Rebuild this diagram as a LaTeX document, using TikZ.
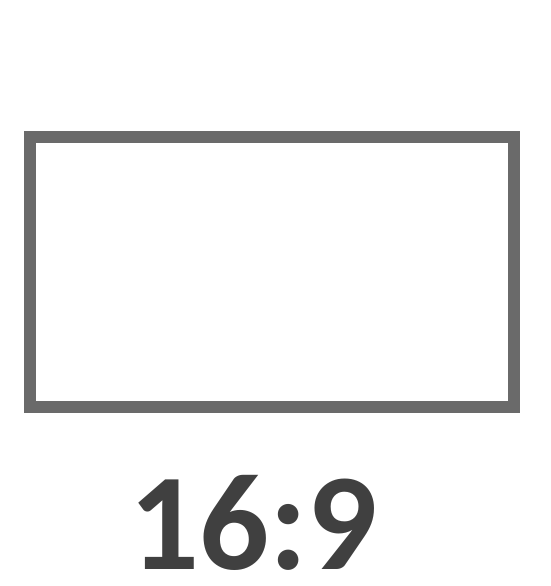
\documentclass[tikz,border=0pt]{standalone}
\usepackage{fontspec}
\setmainfont{Carlito}
\usepackage{tikz}
\usetikzlibrary{positioning}
\definecolor{framegray}{HTML}{6A6A6A}
\definecolor{textgray}{HTML}{404040}

\begin{document}
\begin{tikzpicture}[
    x=1pt, y=-1pt,
    screenbox/.style={draw=framegray, line width=12pt, fill=white},
    ratiolabel/.style={font=\fontsize{138}{138}\selectfont\bfseries, color=textgray, inner sep=0pt}
]
\useasboundingbox (0,0) rectangle (550,586);

% Bildschirmrahmen
\draw[screenbox] (30,137) rectangle (514,407);

% Seitenverhaeltnis
\node[ratiolabel] (ratio) at (253.5,523) {16:9};

\end{tikzpicture}
\end{document}
